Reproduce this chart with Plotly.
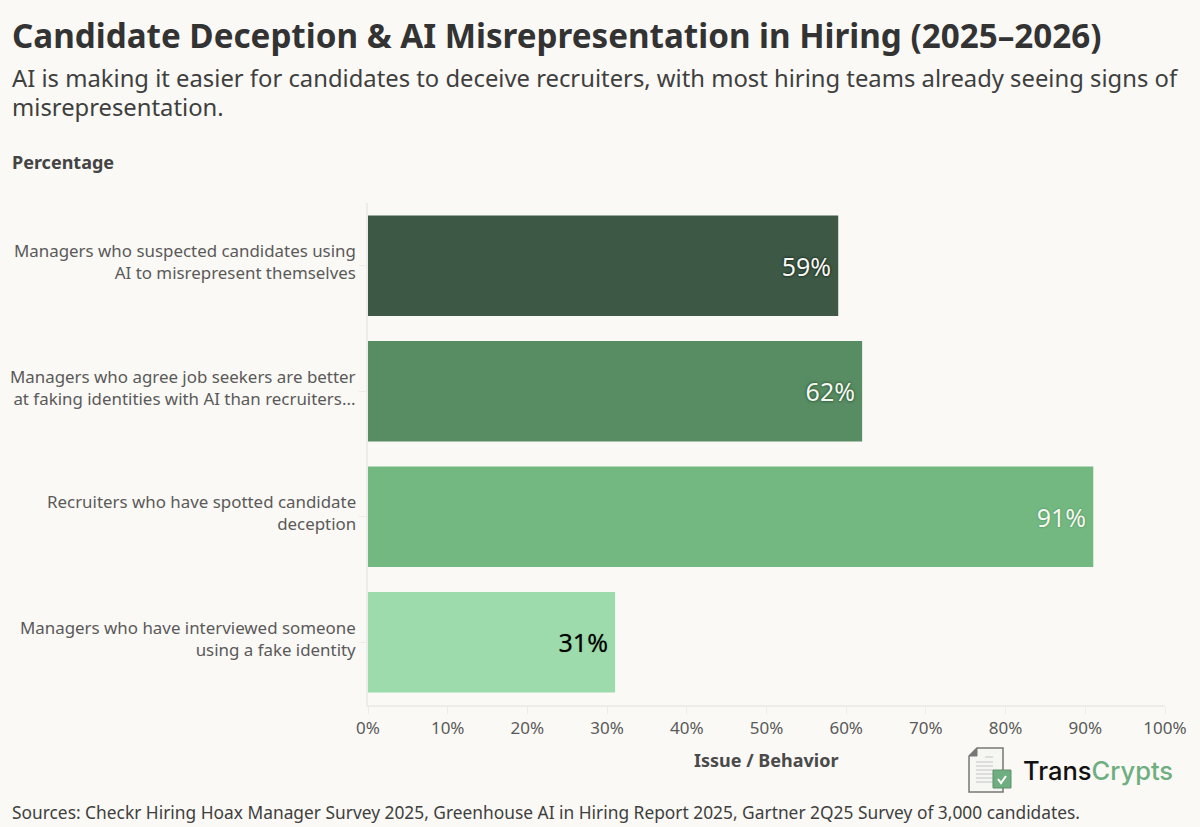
# Candidate deception horizontal bar chart

import plotly.graph_objects as go

# Chart data
categories = [
    "Managers who suspected candidates using<br>AI to misrepresent themselves",
    "Managers who agree job seekers are better<br>at faking identities with AI than recruiters...",
    "Recruiters who have spotted candidate<br>deception",
    "Managers who have interviewed someone<br>using a fake identity",
]
values = [59, 62, 91, 31]
bar_colors = ["#3d5945", "#588c62", "#72b880", "#9edbac"]
label_colors = ["#f6f9f3", "#f6f9f3", "#f6f9f3", "#000000"]
label_shadows = [
    "0px 0px 3px rgba(0,0,0,0.95)",
    "0px 0px 3px rgba(0,40,10,0.8)",
    "0px 0px 2px rgba(0,40,10,0.4)",
    "0px 0px 1px rgba(0,60,20,0.5)",
]
x_ticks = [0, 10, 20, 30, 40, 50, 60, 70, 80, 90, 100]
x_tick_labels = ["0%", "10%", "20%", "30%", "40%", "50%", "60%", "70%", "80%", "90%", "100%"]

title = "Candidate Deception & AI Misrepresentation in Hiring (2025–2026)"
subtitle_lines = [
    "AI is making it easier for candidates to deceive recruiters, with most hiring teams "
    "already seeing signs of",
    "misrepresentation.",
]
source = (
    "Sources: Checkr Hiring Hoax Manager Survey 2025, Greenhouse AI in Hiring Report 2025, "
    "Gartner 2Q25 Survey of 3,000 candidates."
)

FONT = "Noto Sans"
BG = "#faf9f5"
W, H = 1200, 827
L, R, T, B = 368, 35, 203, 122


# paper coords are relative to the plot area, so convert from page pixels
def px(x):
    return (x - L) / (W - L - R)


def py(y):
    return (H - B - y) / (H - T - B)


def note(text, x, y, size, color, bold=False, xanchor="left"):
    fig.add_annotation(
        text=f"<b>{text}</b>" if bold else text,
        x=px(x),
        y=py(y),
        xref="paper",
        yref="paper",
        xanchor=xanchor,
        yanchor="middle",
        showarrow=False,
        font=dict(family=FONT, size=size, color=color),
    )


fig = go.Figure()

fig.add_trace(
    go.Bar(
        x=values,
        y=categories,
        orientation="h",
        width=0.8,
        marker=dict(color=bar_colors, line_width=0),
        text=[f"{v}%\u2009" for v in values],
        textposition="inside",
        insidetextanchor="end",
        textangle=0,
        constraintext="none",
        textfont=dict(family=FONT, size=25, color=label_colors, shadow=label_shadows),
        hoverinfo="skip",
    )
)

fig.update_layout(
    width=W,
    height=H,
    paper_bgcolor=BG,
    plot_bgcolor=BG,
    showlegend=False,
    margin=dict(l=L, r=R, t=T, b=B, autoexpand=False),
    font=dict(family=FONT, color="#555555"),
)

fig.update_xaxes(
    range=[0, 100],
    tickvals=x_ticks,
    ticktext=x_tick_labels,
    ticks="outside",
    ticklen=7,
    tickcolor="#ececea",
    tickfont=dict(size=17, color="#5a5a5a"),
    showgrid=False,
    showline=True,
    linecolor="#ececea",
    linewidth=2,
    zeroline=False,
)

fig.update_yaxes(
    autorange="reversed",
    ticks="outside",
    ticklen=7,
    tickcolor="#ececea",
    showticklabels=False,
    showgrid=False,
    showline=True,
    linecolor="#ececea",
    linewidth=2,
)

# Category labels sit a little above the bar centre, so annotations instead of tick labels
for category in categories:
    fig.add_annotation(
        text=category,
        x=0,
        y=category,
        xref="paper",
        yref="y",
        xanchor="right",
        yanchor="middle",
        align="right",
        xshift=-10,
        yshift=4,
        showarrow=False,
        font=dict(family=FONT, size=16.9, color="#5a5a5a"),
    )

note(title, 10, 35, 33.2, "#333333", bold=True)
note(subtitle_lines[0], 10, 78, 23.8, "#3f3f3f")
note(subtitle_lines[1], 10, 107, 23.8, "#3f3f3f")
note("Percentage", 10, 162, 18, "#444444", bold=True)
note("Issue / Behavior", 766, 760, 18, "#4a4a4a", bold=True, xanchor="center")
note(source, 10, 812, 17.35, "#3f3f3f")

# Logo: document icon with a check badge
fig.add_shape(type="path", xref="paper", yref="paper",
              path=f"M {px(977)} {py(748)} L {px(1003)} {py(748)} L {px(1003)} {py(792)} "
                   f"L {px(969)} {py(792)} L {px(969)} {py(756)} Z",
              line=dict(color="#777777", width=1.5), fillcolor="#f6f6f3")
fig.add_shape(type="path", xref="paper", yref="paper",
              path=f"M {px(977)} {py(748)} L {px(977)} {py(756)} L {px(969)} {py(756)} Z",
              line=dict(color="#777777", width=1), fillcolor="#777777")
for y_line, x_start in [(757, 985), (762, 976), (766, 976), (770, 976), (774, 976), (778, 976), (782, 976)]:
    fig.add_shape(type="line", xref="paper", yref="paper",
                  x0=px(x_start), x1=px(993), y0=py(y_line), y1=py(y_line),
                  line=dict(color="#c4c4c4", width=1))
fig.add_shape(type="rect", xref="paper", yref="paper",
              x0=px(993), x1=px(1011), y0=py(770), y1=py(788),
              line=dict(color="#5e8f6c", width=1), fillcolor="#6fae80")
fig.add_shape(type="path", xref="paper", yref="paper",
              path=f"M {px(998)} {py(779)} L {px(1001)} {py(783)} L {px(1006)} {py(776)}",
              line=dict(color="#ffffff", width=2))
fig.add_annotation(
    text='<span style="color:#111111">Trans</span><span style="color:#6fae80">Crypts</span>',
    x=px(1021), y=py(771), xref="paper", yref="paper",
    xanchor="left", yanchor="middle", showarrow=False,
    font=dict(family="Inter", size=25.5, weight=500),
)

# drop the page's default body margin so the figure fills the window
fig.write_html(
    "out.html",
    config={"displayModeBar": False},
    post_script="document.body.style.margin = '0';",
)
